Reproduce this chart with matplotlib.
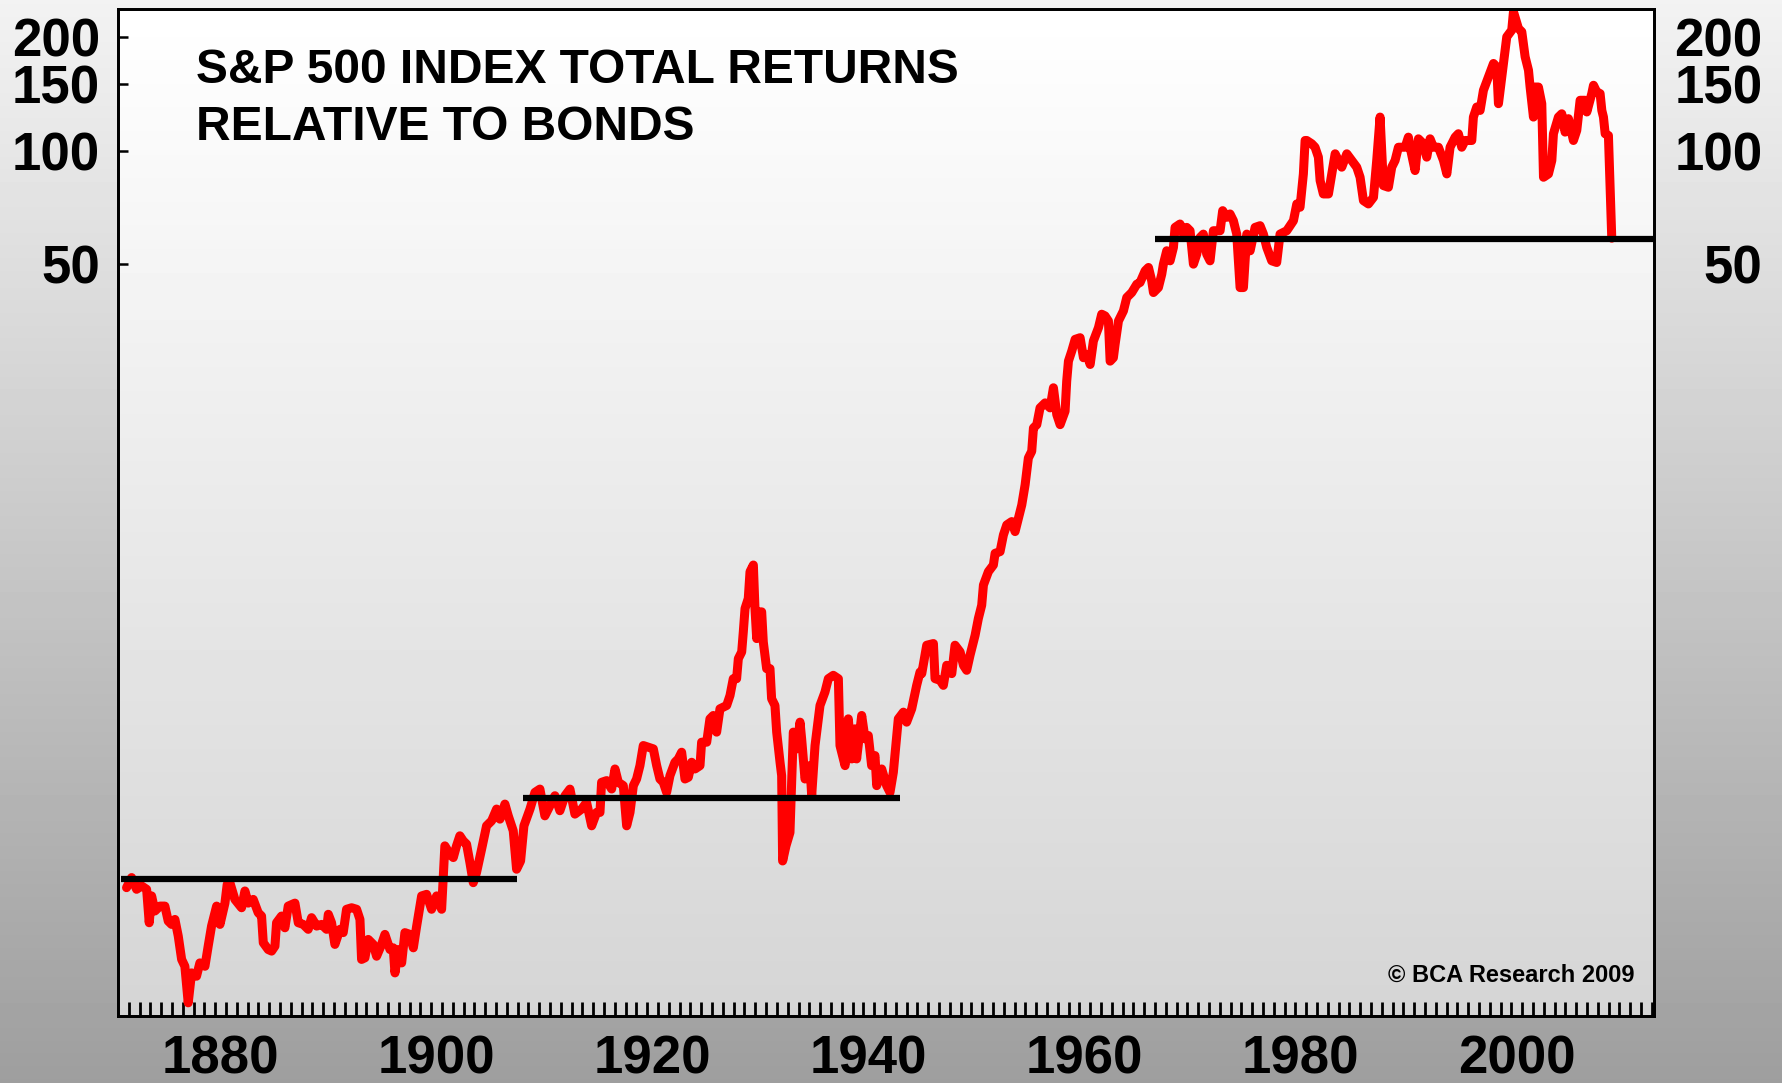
import numpy as np
import matplotlib.pyplot as plt

# S&P 500 total return index relative to bonds
years = [
    1871.79, 1872.26, 1872.72, 1873.18, 1873.65, 1873.89, 1874.11, 1874.42, 1874.88, 1875.34,
    1875.65, 1875.96, 1876.27, 1876.58, 1876.89, 1877.19, 1877.50, 1877.81, 1878.27, 1878.58,
    1879.05, 1879.35, 1879.66, 1880.13, 1880.44, 1880.90, 1881.11, 1881.36, 1881.82, 1882.44,
    1882.75, 1883.06, 1883.52, 1883.98, 1884.29, 1884.45, 1884.91, 1885.22, 1885.53, 1885.68,
    1886.14, 1886.45, 1886.76, 1887.38, 1887.69, 1888.15, 1888.61, 1888.92, 1889.39, 1889.85,
    1890.31, 1890.47, 1890.77, 1891.08, 1891.55, 1891.85, 1892.16, 1892.63, 1893.09, 1893.40,
    1893.55, 1893.86, 1894.17, 1894.63, 1894.94, 1895.40, 1895.71, 1896.18, 1896.48, 1896.64,
    1896.95, 1897.26, 1897.56, 1898.03, 1898.34, 1898.65, 1899.11, 1899.57, 1900.03, 1900.50,
    1900.96, 1901.26, 1901.73, 1902.04, 1902.34, 1902.65, 1902.96, 1903.27, 1903.58, 1903.89,
    1904.19, 1904.66, 1905.12, 1905.59, 1906.05, 1906.36, 1906.82, 1907.13, 1907.59, 1907.90,
    1908.27, 1908.58, 1909.14, 1909.60, 1910.06, 1910.52, 1910.99, 1911.45, 1911.91, 1912.38,
    1912.84, 1913.30, 1913.92, 1914.38, 1914.85, 1915.31, 1915.62, 1915.77, 1916.24, 1916.70,
    1917.01, 1917.32, 1917.78, 1918.09, 1918.40, 1918.71, 1919.01, 1919.32, 1919.63, 1920.09,
    1920.56, 1920.87, 1921.17, 1921.48, 1921.79, 1922.10, 1922.56, 1922.87, 1923.18, 1923.49,
    1923.80, 1924.11, 1924.42, 1924.88, 1925.03, 1925.50, 1925.80, 1926.11, 1926.42, 1926.73,
    1927.35, 1927.66, 1927.96, 1928.27, 1928.43, 1928.74, 1928.89, 1929.05, 1929.35, 1929.51,
    1929.82, 1929.97, 1930.13, 1930.28, 1930.59, 1930.74, 1931.05, 1931.36, 1931.51, 1931.82,
    1931.98, 1932.29, 1932.44, 1932.53, 1932.84, 1933.21, 1933.52, 1933.83, 1934.14, 1934.29,
    1934.60, 1935.06, 1935.22, 1935.53, 1935.99, 1936.45, 1936.76, 1937.22, 1937.69, 1937.84,
    1938.31, 1938.61, 1938.92, 1939.23, 1939.38, 1939.85, 1940.16, 1940.46, 1940.77, 1941.08,
    1941.24, 1941.70, 1942.16, 1942.47, 1942.78, 1943.24, 1943.71, 1944.01, 1944.48, 1944.94,
    1945.25, 1945.41, 1945.87, 1946.49, 1946.64, 1947.11, 1947.41, 1947.72, 1948.19, 1948.49,
    1948.96, 1949.27, 1949.57, 1949.88, 1950.35, 1950.65, 1950.96, 1951.12, 1951.58, 1952.04,
    1952.20, 1952.66, 1952.97, 1953.28, 1953.74, 1954.05, 1954.36, 1954.67, 1954.98, 1955.28,
    1955.59, 1955.75, 1956.06, 1956.36, 1956.83, 1957.29, 1957.60, 1957.91, 1958.22, 1958.68,
    1958.83, 1958.99, 1959.30, 1959.61, 1960.07, 1960.38, 1960.69, 1961.00, 1961.30, 1961.77,
    1962.07, 1962.38, 1962.69, 1962.85, 1963.15, 1963.31, 1963.62, 1964.08, 1964.39, 1964.85,
    1965.32, 1965.62, 1966.09, 1966.40, 1966.70, 1966.86, 1967.32, 1967.63, 1967.78, 1968.09,
    1968.40, 1968.71, 1968.86, 1969.32, 1969.63, 1969.94, 1970.25, 1970.56, 1970.87, 1971.18,
    1971.48, 1971.79, 1972.10, 1972.41, 1973.03, 1973.27, 1973.64, 1973.95, 1974.26, 1974.57,
    1974.88, 1975.19, 1975.50, 1975.81, 1976.27, 1976.73, 1977.04, 1977.35, 1977.81, 1978.27,
    1978.58, 1979.20, 1979.82, 1980.13, 1980.43, 1980.74, 1980.90, 1981.05, 1981.51, 1981.82,
    1982.13, 1982.29, 1982.59, 1983.06, 1983.37, 1983.68, 1983.98, 1984.29, 1984.76, 1985.22,
    1985.68, 1985.99, 1986.30, 1986.76, 1987.23, 1987.53, 1987.84, 1988.15, 1988.61, 1988.92,
    1989.23, 1989.54, 1990.16, 1990.46, 1990.62, 1991.08, 1991.39, 1991.85, 1992.16, 1992.47,
    1992.78, 1993.24, 1993.71, 1994.02, 1994.32, 1994.79, 1995.09, 1995.40, 1995.71, 1996.33,
    1996.48, 1996.79, 1997.10, 1997.41, 1997.87, 1998.34, 1998.64, 1998.80, 1999.26, 1999.57,
    2000.03, 2000.19, 2000.65, 2000.96, 2001.27, 2001.58, 2001.73, 2002.04, 2002.19, 2002.50,
    2002.81, 2002.97, 2003.43, 2003.74, 2003.89, 2004.35, 2004.66, 2004.97, 2005.28, 2005.74,
    2006.05, 2006.36, 2006.82, 2006.98, 2007.44, 2007.60, 2007.90, 2008.21, 2008.37, 2008.52,
    2008.68, 2008.98, 2009.29,
]
ratio = [
    1.097, 1.167, 1.086, 1.109, 1.086, 0.885, 1.043, 0.951, 0.980, 0.980,
    0.894, 0.876, 0.903, 0.815, 0.707, 0.678, 0.542, 0.651, 0.638, 0.692,
    0.678, 0.767, 0.867, 0.980, 0.876, 0.998, 1.120, 1.131, 1.021, 0.970,
    1.075, 0.998, 1.021, 0.941, 0.922, 0.783, 0.751, 0.744, 0.767, 0.885,
    0.922, 0.858, 0.980, 0.998, 0.885, 0.876, 0.850, 0.913, 0.867, 0.876,
    0.850, 0.932, 0.885, 0.775, 0.850, 0.833, 0.961, 0.970, 0.961, 0.903,
    0.707, 0.714, 0.799, 0.775, 0.721, 0.775, 0.824, 0.751, 0.759, 0.651,
    0.751, 0.692, 0.833, 0.824, 0.759, 0.867, 1.043, 1.053, 0.961, 1.043,
    0.961, 1.417, 1.346, 1.319, 1.417, 1.507, 1.461, 1.432, 1.279, 1.131,
    1.203, 1.388, 1.602, 1.652, 1.775, 1.669, 1.830, 1.703, 1.554, 1.228,
    1.292, 1.602, 1.775, 1.966, 2.006, 1.703, 1.812, 1.926, 1.757, 1.926,
    2.006, 1.721, 1.775, 1.849, 1.602, 1.739, 1.739, 2.091, 2.113, 2.007,
    2.269, 2.091, 2.049, 1.602, 1.739, 2.049, 2.134, 2.316, 2.619, 2.593,
    2.566, 2.316, 2.134, 2.091, 1.966, 2.178, 2.364, 2.413, 2.514, 2.134,
    2.156, 2.364, 2.269, 2.316, 2.673, 2.673, 3.084, 3.148, 2.843, 3.280,
    3.347, 3.560, 3.943, 3.943, 4.459, 4.645, 5.254, 6.061, 6.444, 7.590,
    7.909, 6.061, 5.041, 5.937, 5.937, 4.938, 4.194, 4.194, 3.488, 3.347,
    2.843, 2.364, 2.178, 1.292, 1.417, 1.538, 2.843, 2.566, 3.022, 2.729,
    2.134, 2.316, 1.927, 2.619, 3.347, 3.634, 3.943, 4.026, 3.943, 2.619,
    2.316, 3.084, 2.413, 2.901, 2.413, 3.148, 2.729, 2.785, 2.316, 2.463,
    2.049, 2.269, 2.049, 1.966, 2.223, 3.084, 3.213, 3.022, 3.280, 3.786,
    4.108, 4.068, 4.840, 4.890, 3.945, 3.904, 3.786, 4.281, 4.068, 4.840,
    4.646, 4.281, 4.151, 4.552, 5.147, 5.700, 6.185, 6.997, 7.596, 7.909,
    8.497, 8.586, 9.510, 10.11, 10.32, 9.706, 10.54, 11.43, 12.93, 15.23,
    15.87, 18.30, 18.68, 20.70, 21.34, 20.70, 23.41, 19.87, 18.68, 20.29,
    24.39, 27.56, 29.33, 31.49, 31.81, 28.14, 28.72, 27.00, 31.17, 33.83,
    36.73, 36.35, 35.24, 27.56, 28.14, 30.55, 35.24, 37.48, 40.69, 41.94,
    44.14, 44.60, 47.91, 48.90, 45.06, 41.94, 43.26, 46.94, 49.91, 54.17,
    50.93, 55.28, 62.50, 63.81, 59.98, 62.50, 61.24, 49.90, 53.07, 58.78,
    59.98, 53.07, 50.93, 61.24, 61.24, 69.24, 66.47, 67.85, 65.11, 59.98,
    43.24, 43.24, 59.98, 54.15, 62.50, 63.15, 59.98, 55.28, 50.93, 50.41,
    59.98, 61.24, 65.11, 72.15, 70.69, 86.71, 106.4, 106.4, 104.3, 102.1,
    96.08, 83.24, 76.70, 76.70, 86.71, 98.07, 94.15, 90.35, 98.07, 94.15,
    90.35, 84.95, 73.64, 72.15, 75.14, 94.15, 122.8, 80.73, 79.90, 90.35,
    94.15, 102.1, 102.1, 108.6, 102.1, 88.52, 107.5, 104.3, 96.08, 107.5,
    102.1, 102.1, 94.15, 86.71, 102.1, 108.6, 110.9, 102.1, 106.4, 106.4,
    122.8, 130.6, 127.9, 144.7, 157.0, 170.5, 166.9, 133.3, 170.5, 200.7,
    209.1, 234.0, 211.3, 207.0, 177.6, 163.6, 147.6, 122.8, 147.6, 147.6,
    133.3, 84.95, 86.71, 94.15, 110.9, 122.8, 125.3, 112.0, 121.6, 106.4,
    113.2, 136.1, 136.1, 126.7, 141.8, 149.2, 143.2, 141.8, 127.9, 122.8,
    110.9, 109.7, 58.5,
]

# flat black reference lines
flat_level = [1.16, 1.90, 58.2]
flat_start = [1871.3, 1908.5, 1967.0]
flat_end = [1907.9, 1943.4, 2013.2]

y_ticks = [50, 100, 150, 200]
x_labels = [1880, 1900, 1920, 1940, 1960, 1980, 2000]

plt.rcParams['font.family'] = ['Liberation Sans', 'DejaVu Sans']

W, H = 1782, 1083
fig = plt.figure(figsize=(W / 100, H / 100), dpi=100)

# grey gradient behind everything
bg = fig.add_axes([0, 0, 1, 1])
bg.imshow(np.linspace(0.95, 0.62, 256).reshape(-1, 1), cmap='gray', vmin=0, vmax=1,
          aspect='auto', extent=[0, 1, 0, 1])
bg.axis('off')

pos = [118 / W, 1 - 1016 / H, (1654 - 118) / W, (1016 - 9) / H]
abg = fig.add_axes(pos)
abg.imshow(np.linspace(1.0, 0.835, 256).reshape(-1, 1), cmap='gray', vmin=0, vmax=1,
           aspect='auto', extent=[0, 1, 0, 1])
abg.axis('off')

ax = fig.add_axes(pos)
ax.set_facecolor('none')
ax.plot(years, ratio, color='#ff0000', lw=6.5, solid_joinstyle='round',
        solid_capstyle='round', zorder=2)
ax.hlines(flat_level, flat_start, flat_end, color='black', lw=4.5, zorder=3)

ax.set_yscale('log')
ax.set_ylim(0.5, 238)
ax.set_xlim(1871.0, 2013.2)

ax.set_yticks(y_ticks, [str(v) for v in y_ticks])
ax.yaxis.set_minor_locator(plt.NullLocator())
ax.tick_params(axis='y', which='major', direction='in', length=7, width=1.8,
               left=True, right=True, labelleft=True, labelright=False,
               labelsize=38, pad=13)
for lab in ax.get_yticklabels():
    lab.set_fontweight('bold')

# right side labels, right aligned
ax2 = ax.twinx()
ax2.set_yscale('log')
ax2.set_ylim(0.5, 238)
ax2.set_yticks(y_ticks, [str(v) for v in y_ticks])
ax2.yaxis.set_minor_locator(plt.NullLocator())
ax2.tick_params(axis='y', which='major', length=0, labelsize=38, pad=78)
for lab in ax2.get_yticklabels():
    lab.set_fontweight('bold')
    lab.set_horizontalalignment('right')
ax2.set_facecolor('none')

ax.set_xticks(np.arange(1872, 2014))
ax.xaxis.set_major_formatter(plt.NullFormatter())
ax.set_xticks([y + 0.5 for y in x_labels], [str(y) for y in x_labels], minor=True)
ax.tick_params(axis='x', which='major', direction='in', length=10, width=2)
ax.tick_params(axis='x', which='minor', length=0, labelsize=38, pad=13)
for lab in ax.get_xticklabels(minor=True):
    lab.set_fontweight('bold')

for a in (ax, ax2):
    for s in a.spines.values():
        s.set_linewidth(2)

fig.text(196 / W, 1 - 83 / H, 'S&P 500 INDEX TOTAL RETURNS', fontsize=34.5,
         fontweight='bold', va='baseline', ha='left')
fig.text(196 / W, 1 - 140 / H, 'RELATIVE TO BONDS', fontsize=34.5,
         fontweight='bold', va='baseline', ha='left')
fig.text(1635 / W, 1 - 982 / H, '\u00a9 BCA Research 2009', fontsize=17,
         fontweight='bold', va='baseline', ha='right')

fig.savefig('out.png', dpi=100)
